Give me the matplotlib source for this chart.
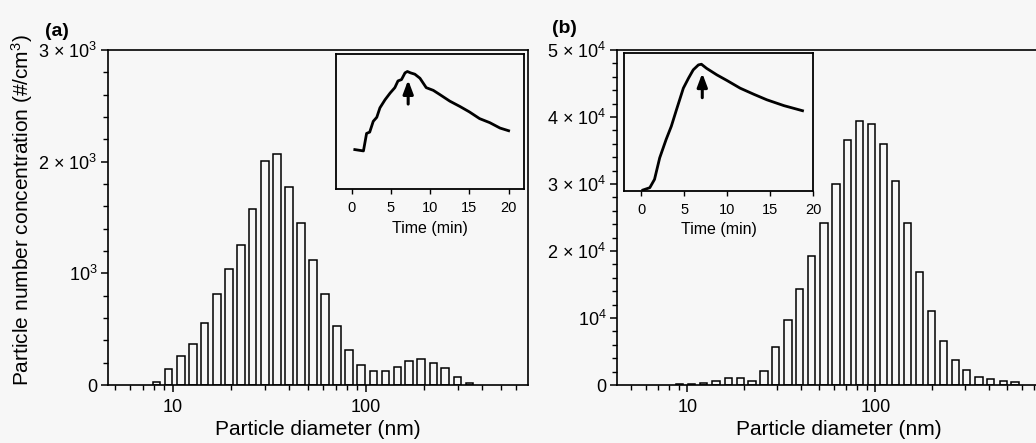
import numpy as np
import matplotlib
matplotlib.use("Agg")
import matplotlib.pyplot as plt
from matplotlib.ticker import FixedLocator, FixedFormatter, NullFormatter

plt.rcParams['font.family'] = ['Liberation Sans', 'DejaVu Sans']
plt.rcParams['mathtext.fontset'] = 'custom'
plt.rcParams['mathtext.rm'] = 'Liberation Sans'
plt.rcParams['mathtext.it'] = 'Liberation Sans:italic'
plt.rcParams['mathtext.bf'] = 'Liberation Sans:bold'

# Panel (a): size distribution (bin centre in nm, number concentration #/cm3)
diam_a = [8.2, 9.5, 11.0, 12.7, 14.6, 16.9, 19.5, 22.5, 25.9, 29.9, 34.6, 39.9, 46.0,
          53.1, 61.3, 70.8, 81.7, 94.3, 109, 126, 145, 167, 193, 223, 257, 297, 343]
conc_a = [27, 146, 257, 364, 552, 812, 1042, 1254, 1579, 2003, 2072, 1773, 1454,
          1116, 812, 528, 313, 179, 122, 128, 158, 212, 230, 200, 152, 75, 21]

# Panel (b)
diam_b = [9.1, 10.5, 12.2, 14.2, 16.5, 19.1, 22.1, 25.6, 29.6, 34.3, 39.7, 46.0, 53.3,
          61.8, 71.3, 82.8, 95.9, 111, 128, 148, 171, 198, 230, 267, 306, 356, 410, 480, 553]
conc_b = [100, 200, 300, 600, 1000, 1000, 600, 2100, 5600, 9700, 14300, 19200, 24200,
          30000, 36500, 39400, 38900, 36000, 30500, 24200, 16900, 11100, 6600, 3700,
          2200, 1200, 850, 600, 450]

# Insets: total concentration vs time (relative)
time_a = [0.4, 1.5, 1.9, 2.3, 2.75, 3.2, 3.6, 4.25, 4.9, 5.5, 5.9, 6.35, 6.8, 7.1,
          7.5, 8.05, 8.7, 9.5, 10.4, 11.2, 12.5, 13.8, 15.0, 16.3, 17.6, 18.9, 20.0]
level_a = [0.29, 0.28, 0.41, 0.42, 0.50, 0.53, 0.60, 0.66, 0.71, 0.75, 0.80, 0.81, 0.86,
           0.87, 0.86, 0.85, 0.82, 0.75, 0.73, 0.70, 0.65, 0.61, 0.57, 0.52, 0.49, 0.45, 0.43]
time_b = [0.2, 1.0, 1.55, 2.15, 2.9, 3.5, 4.1, 4.9, 5.5, 6.05, 6.65, 7.0, 7.6, 8.8,
          10.0, 11.5, 13.1, 14.6, 16.6, 18.75]
level_b = [0.0, 0.017, 0.078, 0.235, 0.37, 0.466, 0.587, 0.745, 0.818, 0.879, 0.915,
           0.92, 0.89, 0.842, 0.80, 0.745, 0.70, 0.66, 0.617, 0.58]
peak_a = 7.2
peak_b = 7.1

BG = '#f7f7f7'
HALF = 0.019  # half bar width in decades


def draw_bars(ax, diam, conc):
    d = np.array(diam, dtype=float)
    left = d * 10 ** (-HALF)
    width = d * 10 ** HALF - left
    ax.bar(left, conc, width=width, align='edge', facecolor=BG,
           edgecolor='black', linewidth=1.1)


def style_main(ax, xlim, ymax, majors, labels, minor_step):
    ax.set_xscale('log')
    ax.set_xlim(*xlim)
    ax.set_ylim(0, ymax)
    ax.set_facecolor('none')
    ax.xaxis.set_major_locator(FixedLocator([10, 100]))
    ax.xaxis.set_major_formatter(FixedFormatter(['10', '100']))
    minors = [m * 10 ** e for e in range(0, 3) for m in range(2, 10)]
    ax.xaxis.set_minor_locator(FixedLocator(minors))
    ax.xaxis.set_minor_formatter(NullFormatter())
    ax.yaxis.set_major_locator(FixedLocator(majors))
    ax.yaxis.set_major_formatter(FixedFormatter(labels))
    ax.yaxis.set_minor_locator(FixedLocator(np.arange(0, ymax + 1, minor_step)))
    ax.tick_params(which='major', direction='out', length=5, width=1.1, labelsize=13)
    ax.tick_params(axis='x', which='major', pad=5)
    ax.tick_params(axis='y', which='major', pad=2.5)
    ax.tick_params(which='minor', direction='out', length=3.5, width=1.0)
    for s in ax.spines.values():
        s.set_linewidth(1.2)
    ax.set_xlabel('Particle diameter (nm)', fontsize=15, labelpad=3)


def draw_inset(ax, t, v, peak, xlim):
    ax.plot(t, v, color='black', linewidth=2.0)
    ax.set_xlim(*xlim)
    ax.set_ylim(-0.005, 1)
    ax.set_facecolor(BG)
    ax.set_yticks([])
    ax.set_xticks([0, 5, 10, 15, 20])
    ax.tick_params(axis='x', direction='out', length=3.5, width=1.0, labelsize=10.5, pad=5)
    for s in ax.spines.values():
        s.set_linewidth(1.3)
    ax.set_xlabel('Time (min)', fontsize=11.5, labelpad=4)
    top = np.interp(peak, t, v)
    ax.annotate('', xy=(peak, top - 0.04), xytext=(peak, top - 0.26),
                arrowprops=dict(arrowstyle='-|>,head_width=0.3,head_length=0.8',
                                color='black', linewidth=2.2))


fig = plt.figure(figsize=(10.36, 4.43), dpi=100, facecolor=BG)

ax_a = fig.add_axes([0.1042, 0.1309, 0.4054, 0.7562])
draw_bars(ax_a, diam_a, conc_a)
style_main(ax_a, (4.6, 690), 3000, [0, 1000, 2000, 3000],
           ['0', '10$^{3}$', '2 × 10$^{3}$', '3 × 10$^{3}$'], 200)

ax_b = fig.add_axes([0.5956, 0.1309, 0.4276, 0.7562])
draw_bars(ax_b, diam_b, conc_b)
style_main(ax_b, (4.23, 960), 50000, [0, 10000, 20000, 30000, 40000, 50000],
           ['0', '10$^{4}$', '2 × 10$^{4}$', '3 × 10$^{4}$',
            '4 × 10$^{4}$', '5 × 10$^{4}$'], 2000)

ins_a = fig.add_axes([0.3243, 0.5727, 0.1818, 0.3054])
draw_inset(ins_a, time_a, level_a, peak_a, (-2, 22))

ins_b = fig.add_axes([0.6023, 0.5695, 0.1827, 0.3102])
draw_inset(ins_b, time_b, level_b, peak_b, (-2, 20))

fig.text(0.021, 0.525, 'Particle number concentration (#/cm$^{3}$)', fontsize=15,
         rotation=90, ha='center', va='center')
fig.text(0.043, 0.93, '(a)', fontsize=14, fontweight='bold', va='center')
fig.text(0.533, 0.935, '(b)', fontsize=14, fontweight='bold', va='center')

fig.savefig('out.png', dpi=100, facecolor=BG)
